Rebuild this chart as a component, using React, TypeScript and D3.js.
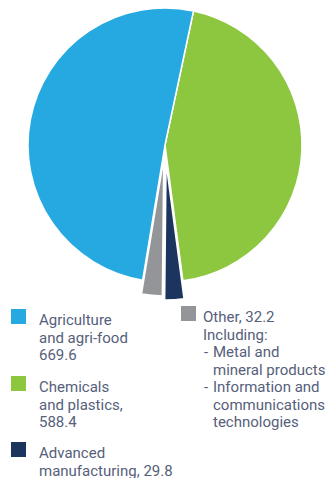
import React from "react";
import * as d3 from "d3";

const categories = ["Agriculture and agri-food", "Chemicals and plastics", "Advanced manufacturing", "Other"];
const values = [669.6, 588.4, 29.8, 32.2];
const colors = ["#25A9E0", "#8DC63F", "#1C355E", "#939598"];
// drawing order clockwise starting at the blue/green boundary
const pieOrder = [1, 2, 3, 0];
const explode = [0, 0, 18, 14];

const legendAgri = ["Agriculture", "and agri-food", "669.6"];
const legendChem = ["Chemicals", "and plastics,", "588.4"];
const legendAdv = ["Advanced", "manufacturing, 29.8"];
const legendOther = ["Other, 32.2", "Including:"];
const otherItems = [["Metal and", "mineral products"], ["Information and", "communications", "technologies"]];

const W = 328;
const H = 478;
const cx = 165;
const cy = 145;
const R = 137;
const LH = 17.5;
const FS = 15;
const textColor = "#56607A";
const font = "Roboto, 'Noto Sans', sans-serif";

export default function App() {
  const start = (12 * Math.PI) / 180;
  const pie = d3
    .pie<number>()
    .sort(null)
    .value((i) => values[i])
    .startAngle(start)
    .endAngle(start + 2 * Math.PI);
  const arcs = pie(pieOrder);
  const arc = d3.arc<d3.PieArcDatum<number>>().innerRadius(0).outerRadius(R);

  const legendBlock = (x: number, y: number, color: string, lines: string[], key: string) => (
    <g key={key}>
      <rect x={x} y={y - 16} width={15} height={15} fill={color} />
      {lines.map((l, i) => (
        <text key={i} x={x + 28} y={y + i * LH} fontSize={FS} fill={textColor} fontFamily={font}>
          {l}
        </text>
      ))}
    </g>
  );

  let otherLine = legendOther.length;
  return (
    <svg width={W} height={H} style={{ position: "absolute", left: 0, top: 0, display: "block" }}>
      <rect width={W} height={H} fill="#fff" />
      <g transform={`translate(${cx},${cy})`}>
        {arcs.map((a) => {
          const i = a.data;
          const mid = (a.startAngle + a.endAngle) / 2;
          const dx = Math.sin(mid) * explode[i];
          const dy = -Math.cos(mid) * explode[i];
          return (
            <path
              key={i}
              d={arc(a) || ""}
              transform={`translate(${dx},${dy})`}
              fill={colors[i]}
              stroke="#fff"
              strokeWidth={1.5}
              strokeLinejoin="round"
            />
          );
        })}
      </g>
      {legendBlock(11, 325, colors[0], legendAgri, "a")}
      {legendBlock(11, 392, colors[1], legendChem, "c")}
      {legendBlock(11, 458, colors[2], legendAdv, "m")}
      <g>
        <rect x={181} y={322 - 16} width={15} height={15} fill={colors[3]} />
        {legendOther.map((l, i) => (
          <text key={i} x={203} y={322 + i * LH} fontSize={FS} fill={textColor} fontFamily={font}>
            {l}
          </text>
        ))}
        {otherItems.map((item, j) =>
          item.map((l, k) => {
            const yy = 322 + otherLine++ * LH;
            return (
              <g key={`${j}-${k}`}>
                {k === 0 && (
                  <text x={204} y={yy} fontSize={FS} fill={textColor} fontFamily={font}>
                    -
                  </text>
                )}
                <text x={213} y={yy} fontSize={FS} fill={textColor} fontFamily={font}>
                  {l}
                </text>
              </g>
            );
          })
        )}
      </g>
    </svg>
  );
}
